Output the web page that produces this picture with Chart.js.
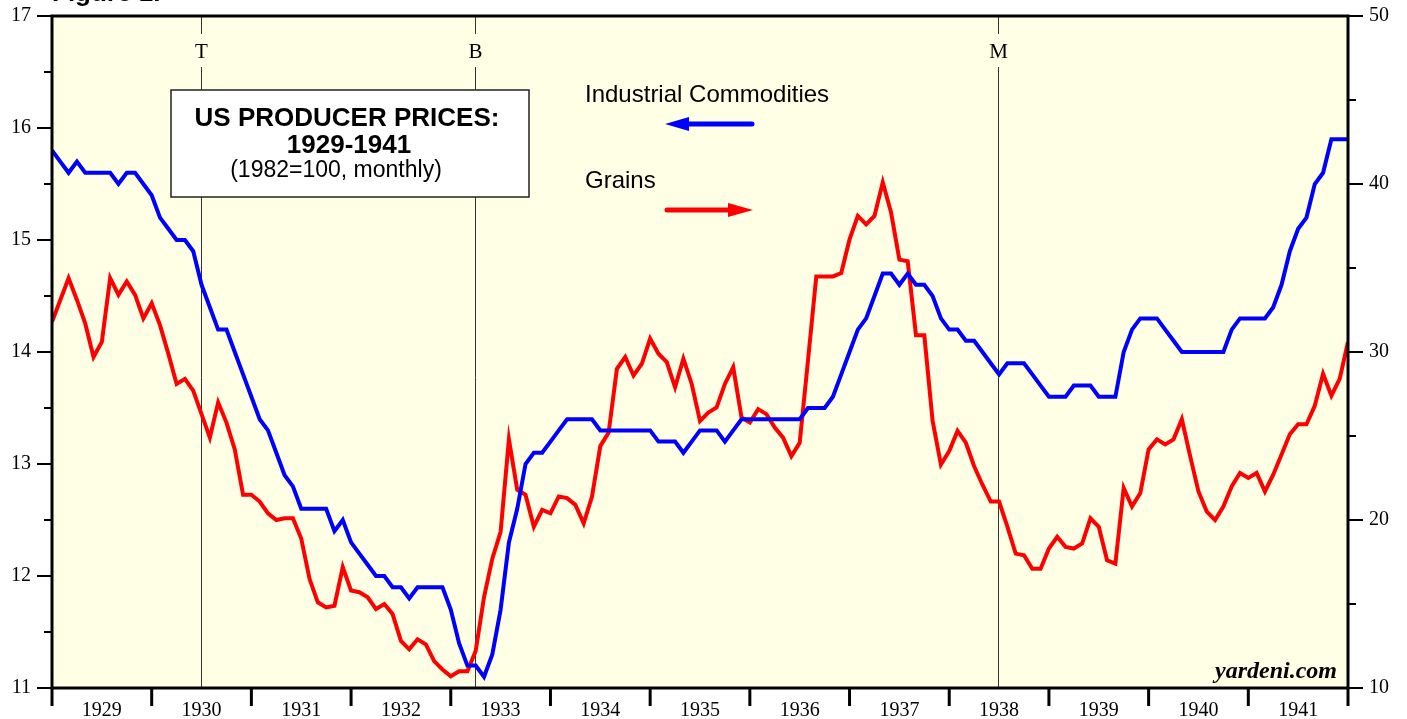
<!DOCTYPE html>
<html>
<head>
<meta charset="utf-8">
<script src="https://cdn.jsdelivr.net/npm/chart.js@4.4.1/dist/chart.umd.min.js"></script>
<style>
  html, body { margin: 0; padding: 0; background: #fff; }
  canvas { display: block; }
</style>
</head>
<body>
<canvas id="ppiChart" width="1407" height="719"></canvas>
<script>
// Years shown on the x axis (one label per year, centred between ticks)
const years = ['1929', '1930', '1931', '1932', '1933', '1934', '1935', '1936', '1937', '1938', '1939', '1940', '1941'];

// Monthly values, Jan 1929 .. Jan 1942 (157 months)
// Industrial commodities, left axis
const industrial = [
    15.8, 15.7, 15.6, 15.7, 15.6, 15.6, 15.6, 15.6, 15.5, 15.6, 15.6, 15.5,
    15.4, 15.2, 15.1, 15.0, 15.0, 14.9, 14.6, 14.4, 14.2, 14.2, 14.0, 13.8,
    13.6, 13.4, 13.3, 13.1, 12.9, 12.8, 12.6, 12.6, 12.6, 12.6, 12.4, 12.5,
    12.3, 12.2, 12.1, 12.0, 12.0, 11.9, 11.9, 11.8, 11.9, 11.9, 11.9, 11.9,
    11.7, 11.4, 11.2, 11.2, 11.1, 11.3, 11.7, 12.3, 12.6, 13.0, 13.1, 13.1,
    13.2, 13.3, 13.4, 13.4, 13.4, 13.4, 13.3, 13.3, 13.3, 13.3, 13.3, 13.3,
    13.3, 13.2, 13.2, 13.2, 13.1, 13.2, 13.3, 13.3, 13.3, 13.2, 13.3, 13.4,
    13.4, 13.4, 13.4, 13.4, 13.4, 13.4, 13.4, 13.5, 13.5, 13.5, 13.6, 13.8,
    14.0, 14.2, 14.3, 14.5, 14.7, 14.7, 14.6, 14.7, 14.6, 14.6, 14.5, 14.3,
    14.2, 14.2, 14.1, 14.1, 14.0, 13.9, 13.8, 13.9, 13.9, 13.9, 13.8, 13.7,
    13.6, 13.6, 13.6, 13.7, 13.7, 13.7, 13.6, 13.6, 13.6, 14.0, 14.2, 14.3,
    14.3, 14.3, 14.2, 14.1, 14.0, 14.0, 14.0, 14.0, 14.0, 14.0, 14.2, 14.3,
    14.3, 14.3, 14.3, 14.4, 14.6, 14.9, 15.1, 15.2, 15.5, 15.6, 15.9, 15.9,
    15.9
];

// Grains, right axis
const grains = [
    31.8, 33.1, 34.4, 33.1, 31.7, 29.7, 30.6, 34.4, 33.4, 34.2, 33.4, 32.0,
    32.9, 31.6, 29.9, 28.1, 28.4, 27.7, 26.3, 24.9, 27.0, 25.8, 24.2, 21.5,
    21.5, 21.1, 20.4, 20.0, 20.1, 20.1, 18.9, 16.5, 15.1, 14.8, 14.9, 17.2,
    15.8, 15.7, 15.4, 14.7, 15.0, 14.4, 12.8, 12.3, 12.9, 12.6, 11.6, 11.1,
    10.7, 11.0, 11.0, 12.2, 15.4, 17.7, 19.3, 24.8, 21.8, 21.5, 19.6, 20.6,
    20.4, 21.4, 21.3, 20.9, 19.8, 21.4, 24.4, 25.2, 29.0, 29.7, 28.6, 29.3,
    30.8, 29.9, 29.4, 27.9, 29.6, 28.1, 25.9, 26.4, 26.7, 28.1, 29.1, 26.1,
    25.8, 26.6, 26.3, 25.5, 24.9, 23.8, 24.6, 29.5, 34.5, 34.5, 34.5, 34.7,
    36.7, 38.1, 37.6, 38.1, 40.1, 38.3, 35.5, 35.4, 31.0, 31.0, 25.9, 23.3,
    24.1, 25.3, 24.6, 23.2, 22.1, 21.1, 21.1, 19.6, 18.0, 17.9, 17.1, 17.1,
    18.3, 19.0, 18.4, 18.3, 18.6, 20.1, 19.6, 17.6, 17.4, 21.9, 20.8, 21.6,
    24.2, 24.8, 24.5, 24.8, 26.0, 23.8, 21.7, 20.5, 20.0, 20.8, 22.0, 22.8,
    22.5, 22.8, 21.7, 22.7, 23.9, 25.1, 25.7, 25.7, 26.8, 28.7, 27.4, 28.4,
    30.6
];

// Axis ticks
const leftTicks = [11, 12, 13, 14, 15, 16, 17];
const rightTicks = [10, 20, 30, 40, 50];

// Event lines (months since Jan 1929)
const eventLabels = ['T', 'B', 'M'];
const eventMonths = [17.9, 50.95, 113.9];

const toPoints = arr => arr.map((v, i) => ({ x: i, y: v }));

const SERIF = '"Liberation Serif", "Times New Roman", serif';
const SANS = '"Liberation Sans", Arial, Helvetica, sans-serif';

const framePlugin = {
    id: 'frame',
    beforeDraw(chart) {
        const { ctx, chartArea: a } = chart;
        ctx.save();
        ctx.fillStyle = '#ffffff';
        ctx.fillRect(0, 0, chart.width, chart.height);
        ctx.fillStyle = '#ffffe6';
        ctx.fillRect(a.left, a.top, a.right - a.left, a.bottom - a.top);

        // partially visible figure heading above the chart
        ctx.fillStyle = '#000';
        ctx.font = 'bold 26px ' + SANS;
        ctx.textAlign = 'left';
        ctx.textBaseline = 'alphabetic';
        ctx.fillText('Figure 1.', 52, 1);
        ctx.restore();
    },
    beforeDatasetsDraw(chart) {
        const { ctx, chartArea: a, scales } = chart;
        ctx.save();
        ctx.strokeStyle = '#333';
        ctx.lineWidth = 1;
        ctx.fillStyle = '#000';
        ctx.font = '21px ' + SERIF;
        ctx.textAlign = 'center';
        ctx.textBaseline = 'middle';
        eventMonths.forEach((m, k) => {
            const x = Math.round(scales.x.getPixelForValue(m)) + 0.5;
            ctx.beginPath();
            ctx.moveTo(x, a.top);
            ctx.lineTo(x, a.top + 18);
            ctx.moveTo(x, a.top + 51);
            ctx.lineTo(x, a.bottom);
            ctx.stroke();
            ctx.fillText(eventLabels[k], x, a.top + 36);
        });
        ctx.restore();
    },
    afterDatasetsDraw(chart) {
        const { ctx, chartArea: a, scales } = chart;
        ctx.save();

        // title box
        ctx.fillStyle = '#fff';
        ctx.fillRect(171, 90, 358, 107);
        ctx.strokeStyle = '#222';
        ctx.lineWidth = 1.5;
        ctx.strokeRect(171, 90, 358, 107);
        ctx.fillStyle = '#000';
        ctx.textAlign = 'center';
        ctx.textBaseline = 'alphabetic';
        ctx.font = 'bold 26px ' + SANS;
        ctx.fillText('US PRODUCER PRICES:', 347, 126);
        ctx.fillText('1929-1941', 349, 153);
        ctx.font = '23px ' + SANS;
        ctx.fillText('(1982=100, monthly)', 336, 177);

        // legend text + arrows
        ctx.textAlign = 'left';
        ctx.font = '24px ' + SANS;
        ctx.fillText('Industrial Commodities', 585, 102);
        ctx.fillText('Grains', 585, 188);

        ctx.lineCap = 'round';
        ctx.lineWidth = 5;
        ctx.strokeStyle = '#0000ff';
        ctx.fillStyle = '#0000ff';
        ctx.beginPath();
        ctx.moveTo(752, 124);
        ctx.lineTo(684, 124);
        ctx.stroke();
        ctx.beginPath();
        ctx.moveTo(665, 124);
        ctx.lineTo(689, 117);
        ctx.lineTo(689, 131);
        ctx.closePath();
        ctx.fill();

        ctx.strokeStyle = '#ff0000';
        ctx.fillStyle = '#ff0000';
        ctx.beginPath();
        ctx.moveTo(667, 210);
        ctx.lineTo(734, 210);
        ctx.stroke();
        ctx.beginPath();
        ctx.moveTo(753, 210);
        ctx.lineTo(728, 203);
        ctx.lineTo(728, 217);
        ctx.closePath();
        ctx.fill();

        // source
        ctx.fillStyle = '#000';
        ctx.textAlign = 'right';
        ctx.font = 'italic bold 24px ' + SERIF;
        ctx.fillText('yardeni.com', 1337, 678);

        // plot frame
        ctx.strokeStyle = '#000';
        ctx.lineWidth = 3;
        ctx.lineCap = 'butt';
        ctx.strokeRect(a.left, a.top, a.right - a.left, a.bottom - a.top);

        // left axis ticks + labels
        ctx.lineWidth = 2;
        ctx.font = '20px ' + SERIF;
        ctx.textAlign = 'right';
        ctx.textBaseline = 'middle';
        const yl = scales.yL;
        for (let v = 11; v <= 17; v += 0.5) {
            const y = Math.round(yl.getPixelForValue(v));
            const major = Number.isInteger(v);
            ctx.beginPath();
            ctx.moveTo(a.left - (major ? 15 : 8), y);
            ctx.lineTo(a.left, y);
            ctx.stroke();
        }
        leftTicks.forEach(v => {
            ctx.fillText(String(v), 31, yl.getPixelForValue(v));
        });

        // right axis ticks + labels
        const yr = scales.yR;
        for (let v = 10; v <= 50; v += 5) {
            const y = Math.round(yr.getPixelForValue(v));
            const major = v % 10 === 0;
            ctx.beginPath();
            ctx.moveTo(a.right, y);
            ctx.lineTo(a.right + (major ? 15 : 8), y);
            ctx.stroke();
        }
        ctx.textAlign = 'left';
        rightTicks.forEach(v => {
            ctx.fillText(String(v), 1369, yr.getPixelForValue(v));
        });

        // year ticks + labels
        ctx.lineWidth = 3;
        ctx.font = '20px ' + SERIF;
        ctx.textAlign = 'center';
        ctx.textBaseline = 'alphabetic';
        for (let k = 0; k <= years.length; k++) {
            const x = scales.x.getPixelForValue(k * 12);
            ctx.beginPath();
            ctx.moveTo(x, a.bottom);
            ctx.lineTo(x, a.bottom + 18);
            ctx.stroke();
        }
        years.forEach((yr, k) => {
            ctx.fillText(yr, scales.x.getPixelForValue(k * 12 + 6), 716);
        });

        ctx.restore();
    }
};

const ctx = document.getElementById('ppiChart').getContext('2d');
new Chart(ctx, {
    type: 'line',
    data: {
        datasets: [
            {
                label: 'Industrial Commodities',
                data: toPoints(industrial),
                yAxisID: 'yL',
                borderColor: '#0000ff',
                borderWidth: 4,
                pointRadius: 0,
                tension: 0,
                borderJoinStyle: 'miter',
            },
            {
                label: 'Grains',
                data: toPoints(grains),
                yAxisID: 'yR',
                borderColor: '#ff0000',
                borderWidth: 4,
                pointRadius: 0,
                tension: 0,
                borderJoinStyle: 'miter',
            },
        ],
    },
    options: {
        responsive: false,
        animation: false,
        devicePixelRatio: 1,
        layout: { padding: { top: 16, left: 0, right: 0, bottom: 0 } },
        plugins: {
            legend: { display: false },
            tooltip: { enabled: false },
        },
        scales: {
            x: {
                type: 'linear',
                min: 0,
                max: years.length * 12,
                grid: { display: false },
                border: { display: false },
                ticks: { display: false },
                afterFit: s => { s.height = 31; },
            },
            yL: {
                position: 'left',
                min: 11,
                max: 17,
                grid: { display: false },
                border: { display: false },
                ticks: { display: false },
                afterFit: s => { s.width = 52; },
            },
            yR: {
                position: 'right',
                min: 10,
                max: 50,
                grid: { display: false },
                border: { display: false },
                ticks: { display: false },
                afterFit: s => { s.width = 59; },
            },
        },
    },
    plugins: [framePlugin],
});
</script>
</body>
</html>
